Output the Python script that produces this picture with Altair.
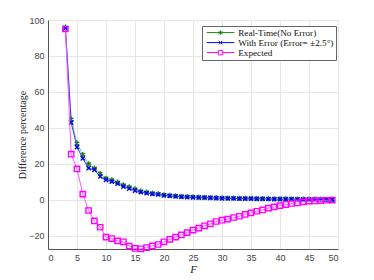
import altair as alt
import pandas as pd

F = list(range(3, 50))

real_time = [96.0, 44.8, 31.5, 25.2, 20.0, 17.6, 14.6, 12.0, 11.1, 9.8, 8.3, 7.2, 6.1, 4.8,
             4.3, 3.7, 3.3, 2.8, 2.5, 2.2, 2.0, 1.8, 1.7, 1.5, 1.4, 1.3, 1.2, 1.1, 1.0, 0.95,
             0.9, 0.85, 0.8, 0.75, 0.7, 0.65, 0.6, 0.55, 0.5, 0.48, 0.45, 0.42, 0.4, 0.37,
             0.35, 0.32, 0.3]
with_error = [95.3, 43.0, 29.3, 23.1, 17.6, 16.7, 13.0, 11.1, 10.2, 9.1, 7.4, 6.3, 5.2, 4.3,
              3.8, 3.3, 3.0, 2.5, 2.2, 1.9, 1.7, 1.5, 1.4, 1.3, 1.2, 1.1, 1.0, 0.9, 0.85, 0.8,
              0.75, 0.7, 0.65, 0.6, 0.55, 0.5, 0.47, 0.44, 0.4, 0.37, 0.34, 0.31, 0.28, 0.25,
              0.22, 0.2, 0.18]
expected = [95.0, 25.4, 17.2, 3.2, -5.9, -11.7, -15.2, -20.7, -21.5, -22.8, -23.3, -25.7,
            -27.0, -27.2, -26.5, -25.6, -24.8, -23.3, -21.9, -20.7, -19.5, -18.2, -16.8,
            -15.7, -14.4, -13.3, -12.0, -11.3, -10.7, -9.8, -9.1, -8.1, -7.2, -6.3, -5.6,
            -4.6, -3.9, -3.2, -2.6, -2.0, -1.7, -1.1, -0.7, -0.6, -0.4, -0.2, -0.1]

series_names = ["Real-Time(No Error)", "With Error (Error= \u00b12.5\u00b0)", "Expected"]
line_colors = ["#7fcf7f", "#3a3aff", "#ff55ff"]
marker_colors = ["#1c7f1c", "#0000ee", "#ff00ff"]

ASTER = "M0,-1V1M-0.87,-0.5L0.87,0.5M-0.87,0.5L0.87,-0.5"
XMARK = "M-0.8,-0.8L0.8,0.8M-0.8,0.8L0.8,-0.8"
SQUARE = "M-1,-1H1V1H-1Z"
marker_shapes = [ASTER, XMARK, SQUARE]
legend_shapes = ["M-6.2,0H6.2" + ASTER, "M-6.2,0H6.2" + XMARK, "M-6.2,0H-0.8M0.8,0H6.2" + SQUARE]

rows = []
for name, vals in zip(series_names, [real_time, with_error, expected]):
    for f, v in zip(F, vals):
        rows.append({"F": f, "value": v, "series": name})
df = pd.DataFrame(rows)

x = alt.X("F:Q", scale=alt.Scale(domain=[0, 50], nice=False),
          axis=alt.Axis(values=list(range(0, 51, 5)), title="F",
                        titleFont="Liberation Serif", titleFontStyle="italic",
                        titleFontWeight="normal", titleFontSize=11, titlePadding=1,
                        labelPadding=4))
y = alt.Y("value:Q", scale=alt.Scale(domain=[-27.3, 100], nice=False),
          axis=alt.Axis(values=[-20, 0, 20, 40, 60, 80, 100], title="Difference percentage",
                        titleFont="Liberation Serif", titleFontWeight="normal",
                        titleFontSize=10, titlePadding=1, labelPadding=4))

base = alt.Chart(df)

layers = []
for name, lcol, mcol, shp in zip(series_names, line_colors, marker_colors, marker_shapes):
    sub = base.transform_filter(alt.datum.series == name)
    layers.append(sub.mark_line(strokeWidth=1, color=lcol).encode(x=x, y=y))
    layers.append(
        sub.mark_point(filled=False, size=28, strokeWidth=1.4, opacity=1, color=mcol, shape=shp)
        .encode(x=x, y=y)
    )

legend_layer = base.transform_filter(alt.datum.F < 0).mark_point(
    filled=False, size=20).encode(
    x=x, y=y,
    color=alt.Color("series:N", scale=alt.Scale(domain=series_names, range=marker_colors),
                    sort=series_names,
                    legend=alt.Legend(title=None, orient="none", legendX=154, legendY=6,
                                      symbolSize=20, symbolOpacity=1, symbolStrokeWidth=1,
                                      symbolOffset=12, labelOffset=13,
                                      labelFont="Liberation Serif", labelFontSize=9.2,
                                      labelColor="#111", padding=2, rowPadding=0,
                                      strokeColor="#666", fillColor="white")),
    shape=alt.Shape("series:N", scale=alt.Scale(domain=series_names, range=legend_shapes),
                    sort=series_names),
)

chart = alt.layer(*layers, legend_layer).properties(
    width=290, height=229,
    autosize=alt.AutoSizeParams(type="none"),
    padding={"left": 40, "top": 12, "right": 28, "bottom": 28},
).configure_view(stroke=None).configure_axis(
    domainColor="#555", domainWidth=1, ticks=False, gridColor="#e6e6e6",
    labelFont="Liberation Sans", labelFontSize=9, labelColor="#444",
    titleColor="#222",
)

chart.save("out.html", embed_options={"renderer": "svg", "actions": False})
